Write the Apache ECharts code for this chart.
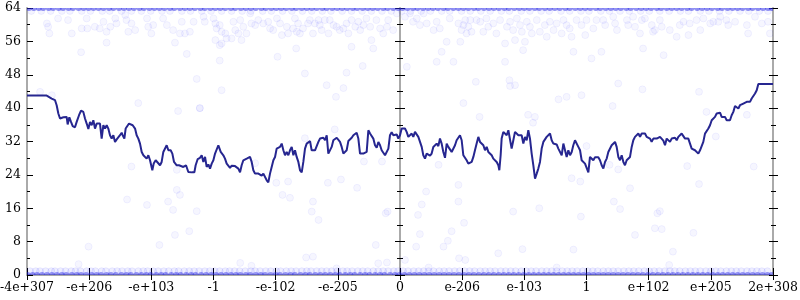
<!DOCTYPE html>
<html><head><meta charset="utf-8">
<script src="https://cdn.jsdelivr.net/npm/echarts@6/dist/echarts.min.js"></script>
<style>html,body{margin:0;padding:0;background:#fff}#c{width:800px;height:300px}</style>
</head><body><div id="c"></div>
<script>
// ---------- DATA ----------
const xTickLabels = ['-4e+307','-e+206','-e+103','-1','-e-102','-e-205','0','e-206','e-103','1','e+102','e+205','2e+308'];
const xMin = -6, xMax = 6;
const yMin = 0, yMax = 64, yStep = 8;

const lineSeg1 = [[-6.0,43.0],[-5.683,43.0],[-5.657,42.6],[-5.603,42.3],[-5.549,41.9],[-5.523,40.7],[-5.496,38.7],[-5.469,37.5],[-5.442,37.3],[-5.415,37.8],[-5.389,37.5],[-5.362,37.9],[-5.346,36.1],[-5.319,37.8],[-5.292,36.7],[-5.265,35.7],[-5.228,35.4],[-5.201,36.7],[-5.163,38.3],[-5.131,39.4],[-5.094,39.1],[-5.067,37.5],[-5.040,36.3],[-5.013,35.0],[-4.986,36.7],[-4.960,35.9],[-4.933,37.1],[-4.906,35.1],[-4.879,36.3],[-4.852,36.7],[-4.826,36.3],[-4.799,32.7],[-4.772,35.9],[-4.745,35.1],[-4.718,35.9],[-4.692,35.1],[-4.665,33.5],[-4.638,32.7],[-4.611,33.5],[-4.584,31.9],[-4.557,32.5],[-4.531,32.7],[-4.504,33.5],[-4.477,34.1],[-4.461,33.5],[-4.434,32.7],[-4.413,35.1],[-4.386,35.5],[-4.359,36.3],[-4.327,36.6],[-4.300,35.9],[-4.262,35.1],[-4.236,33.5],[-4.209,32.7],[-4.182,31.5],[-4.155,29.5],[-4.128,28.7],[-4.102,29.1],[-4.075,27.9],[-4.048,28.7],[-4.021,27.5],[-3.984,25.1],[-3.962,26.7],[-3.930,27.5],[-3.903,27.1],[-3.860,26.3],[-3.834,27.1],[-3.807,29.5],[-3.780,29.9],[-3.753,31.1],[-3.726,29.9],[-3.689,29.9],[-3.662,29.1],[-3.635,27.1],[-3.592,26.3],[-3.555,26.3],[-3.528,25.9],[-3.485,25.9],[-3.442,26.3],[-3.405,24.7],[-3.351,24.6],[-3.308,24.6],[-3.287,26.3],[-3.254,27.8],[-3.217,28.1],[-3.190,28.7],[-3.163,27.1],[-3.136,28.3],[-3.110,25.9],[-3.083,26.5],[-3.056,25.5],[-3.029,26.7],[-3.002,27.5],[-2.975,29.1]];
const lineSeg2 = [[-2.949,29.5],[-2.922,31.1],[-2.906,30.7],[-2.884,29.5],[-2.863,29.9],[-2.842,28.7],[-2.815,27.9],[-2.788,26.7],[-2.761,26.3],[-2.734,25.7],[-2.707,26.2],[-2.681,25.9],[-2.654,26.1],[-2.627,25.9],[-2.600,25.5],[-2.573,24.6],[-2.547,26.3],[-2.520,27.5],[-2.493,27.3],[-2.466,27.9],[-2.439,27.8],[-2.413,28.3],[-2.386,27.1],[-2.359,25.1],[-2.332,24.3],[-2.305,24.1],[-2.278,24.3],[-2.252,23.9],[-2.225,23.8],[-2.198,24.3],[-2.171,23.9],[-2.144,22.7],[-2.118,22.2],[-2.091,24.3],[-2.064,25.9],[-2.037,27.5],[-2.010,28.3],[-1.984,30.3],[-1.957,30.7],[-1.930,30.7],[-1.903,31.5],[-1.876,29.9],[-1.850,28.7],[-1.823,29.5],[-1.796,28.7],[-1.769,29.9],[-1.742,30.7],[-1.715,28.7],[-1.689,29.9],[-1.662,28.3],[-1.635,27.1],[-1.608,25.1],[-1.581,24.6],[-1.555,27.1],[-1.528,30.3],[-1.501,31.5],[-1.474,31.9],[-1.447,32.1],[-1.421,29.9],[-1.394,29.5],[-1.367,29.9],[-1.340,30.3],[-1.313,31.9],[-1.287,32.7],[-1.260,32.3],[-1.233,32.9],[-1.206,32.3],[-1.179,33.5],[-1.153,29.1],[-1.126,28.7],[-1.099,30.7],[-1.072,32.3],[-1.045,32.7],[-1.018,32.9],[-0.992,33.1],[-0.965,31.9],[-0.938,30.7],[-0.911,29.1],[-0.884,28.9],[-0.858,29.9],[-0.831,32.1],[-0.804,32.3],[-0.777,32.9],[-0.750,33.5],[-0.724,33.7],[-0.697,34.1],[-0.670,32.7],[-0.643,29.1],[-0.616,28.9],[-0.590,29.1],[-0.563,29.1],[-0.536,29.5],[-0.509,34.7],[-0.482,33.9],[-0.455,34.3],[-0.429,32.7],[-0.402,31.1],[-0.375,30.5],[-0.348,31.9],[-0.321,31.1],[-0.295,29.9],[-0.268,30.3],[-0.241,28.7],[-0.214,28.3],[-0.187,30.3],[-0.161,33.5],[-0.134,34.2],[-0.107,33.5],[-0.080,33.1],[-0.053,33.7],[-0.027,32.7],[0.000,33.5]];
const lineSeg3 = [[0.027,35.1],[0.054,34.7],[0.080,35.1],[0.107,34.3],[0.134,33.1],[0.161,33.5],[0.188,33.9],[0.214,33.1],[0.241,34.3],[0.268,34.7],[0.295,33.1],[0.322,32.7],[0.349,30.7],[0.375,28.7],[0.402,27.9],[0.429,29.1],[0.456,29.5],[0.483,28.6],[0.509,29.1],[0.536,30.7],[0.563,30.3],[0.590,31.5],[0.617,30.9],[0.643,32.7],[0.670,31.5],[0.697,29.5],[0.724,28.1],[0.751,31.5],[0.777,30.7],[0.804,30.3],[0.831,29.5],[0.858,29.7],[0.885,31.1],[0.911,32.3],[0.938,32.7],[0.965,33.5],[0.992,32.3],[1.019,28.7],[1.046,28.3],[1.072,27.5],[1.099,26.7],[1.126,26.3],[1.153,27.1],[1.180,28.3],[1.206,29.9],[1.233,31.5],[1.260,33.1],[1.287,31.9],[1.314,31.5],[1.341,31.1],[1.367,29.9],[1.394,30.7],[1.421,29.5],[1.448,29.1],[1.475,28.7],[1.501,27.9],[1.528,27.5],[1.555,27.1],[1.582,26.3],[1.598,25.1],[1.619,28.7],[1.635,32.7],[1.662,34.3],[1.689,34.7],[1.716,33.5],[1.743,34.7],[1.769,34.7],[1.796,30.3],[1.823,32.3],[1.850,34.3],[1.877,33.9],[1.904,33.5],[1.930,33.9],[1.957,33.5],[1.984,31.5],[2.011,33.1],[2.038,32.3],[2.064,34.7],[2.091,32.7],[2.118,29.1],[2.145,26.3],[2.172,23.1],[2.199,24.3],[2.225,25.5],[2.252,27.1],[2.279,30.3],[2.306,31.9],[2.333,32.3],[2.359,33.1],[2.386,32.7],[2.413,33.9],[2.440,32.3],[2.467,31.5],[2.493,31.1],[2.520,31.3],[2.547,30.3],[2.574,29.9],[2.601,28.7],[2.628,31.5],[2.654,31.1],[2.681,28.3],[2.708,29.9],[2.735,28.7],[2.762,29.5],[2.788,31.1],[2.815,32.3],[2.842,32.7],[2.869,30.7],[2.896,29.9],[2.922,27.5],[2.949,27.5],[2.976,26.7],[3.003,26.3],[3.030,24.6],[3.056,28.3]];
const lineSeg4 = [[3.083,27.9],[3.110,27.5],[3.137,28.2],[3.164,28.5],[3.190,28.2],[3.217,27.5],[3.244,26.3],[3.271,25.5],[3.298,27.1],[3.325,27.9],[3.351,29.5],[3.378,29.9],[3.405,31.1],[3.432,31.5],[3.459,31.9],[3.485,30.7],[3.512,28.3],[3.539,27.5],[3.566,28.7],[3.593,27.1],[3.619,26.3],[3.646,27.5],[3.673,27.9],[3.700,28.3],[3.727,30.7],[3.753,32.3],[3.780,33.1],[3.807,33.5],[3.834,33.9],[3.861,33.1],[3.888,33.9],[3.914,34.3],[3.941,33.9],[3.968,33.1],[3.995,33.5],[4.022,32.7],[4.048,31.9],[4.075,32.7],[4.102,32.3],[4.129,32.7],[4.156,32.3],[4.182,33.1],[4.209,32.7],[4.236,32.2],[4.263,31.1],[4.290,32.7],[4.317,33.1],[4.343,31.9],[4.370,32.7],[4.397,32.3],[4.424,32.9],[4.451,32.3],[4.477,33.1],[4.504,32.7],[4.531,33.9],[4.558,33.5],[4.585,32.7],[4.611,32.3],[4.638,32.7],[4.665,31.5],[4.692,30.3],[4.719,30.7],[4.745,29.9],[4.772,29.8],[4.799,29.1],[4.826,29.9],[4.853,30.3],[4.879,31.9],[4.906,33.9],[4.933,34.3],[4.960,35.1],[4.987,35.9],[5.014,37.1],[5.040,37.5],[5.067,37.9],[5.094,38.7],[5.121,38.3],[5.148,38.9],[5.174,37.9],[5.201,37.5],[5.228,37.9],[5.255,37.1],[5.282,36.7],[5.308,37.1],[5.335,38.3],[5.362,39.1],[5.389,40.5],[5.416,40.3],[5.443,39.9],[5.469,40.7],[5.496,40.3],[5.523,41.1],[5.550,40.7],[5.577,41.5],[5.603,41.3],[5.630,41.5],[5.657,42.3],[5.684,42.7],[5.711,43.5],[5.738,44.3],[5.764,45.8],[6.0,45.8]];

// isolated faint sample points [x, y]
const scatterPts = [
[-5.68,60.3],[-5.66,59.5],[-5.64,57.9],[-5.50,61.5],[-5.34,61.1],[-5.28,57.9],[-5.13,53.4],[-5.12,59.1],[-5.04,61.5],[-5.03,59.1],[-4.91,59.5],[-4.83,59.1],[-4.77,60.7],[-4.72,58.3],[-4.72,55.7],[-4.66,59.5],[-4.58,61.5],[-4.56,60.3],[-4.42,62.3],[-4.40,61.1],[-4.37,58.3],[-4.32,60.3],[-4.26,58.7],[-4.07,61.5],[-4.05,59.5],[-3.97,59.9],[-4.00,57.9],[-3.81,61.5],[-3.75,59.9],[-3.65,58.7],[-3.62,55.7],[-3.54,57.9],[-3.51,60.7],[-3.46,57.9],[-3.43,53.0],[-3.38,58.3],[-3.32,60.7],[-3.27,47.0],[-3.22,40.0],[-4.21,41.2],[-5.79,43.9],[-5.60,43.1],[-3.57,39.3],
[-3.16,61.9],[-3.14,60.7],[-3.00,61.5],[-2.97,60.3],[-2.95,59.1],[-2.90,59.9],[-2.87,58.3],[-2.81,57.9],[-2.97,56.3],[-2.90,55.1],[-2.87,55.5],[-2.79,56.7],[-2.71,56.7],[-2.68,60.7],[-2.65,58.7],[-2.60,57.9],[-2.57,61.1],[-2.55,56.3],[-2.52,59.5],[-2.47,57.9],[-2.41,62.7],[-2.39,60.3],[-2.33,59.9],[-2.28,61.1],[-2.20,60.3],[-2.12,60.7],[-2.09,59.1],[-2.04,58.7],[-1.98,61.5],[-1.93,60.3],[-1.90,57.5],[-1.82,59.5],[-1.80,57.9],[-1.72,59.1],[-1.69,61.5],[-1.66,58.3],[-1.64,60.3],[-1.61,57.9],[-1.56,59.1],[-1.48,60.3],[-1.45,61.1],[-1.40,57.9],[-1.37,60.3],[-1.31,61.1],[-1.29,59.9],[-1.26,58.7],[-1.21,61.1],[-1.15,57.9],[-1.13,61.1],[-1.07,59.9],[-1.02,59.5],[-0.97,58.7],[-0.91,59.1],[-0.86,60.3],[-0.83,57.9],[-0.78,61.1],[-0.72,59.5],[-0.67,60.7],[-0.64,58.7],[-0.59,59.9],[-0.54,61.5],[-0.48,59.5],[-0.46,56.3],[-0.43,54.3],[-0.38,61.1],[-0.32,59.1],[-0.27,57.9],[-0.21,59.5],[-0.19,61.1],[-0.11,58.7],[-0.05,62.7],[-0.78,54.7],[-1.67,54.3],[-1.97,52.3],[-2.90,51.4],[-1.53,48.3],[-0.86,48.5],[-0.60,50.1],[-1.18,45.5],[-0.91,44.8],[-1.03,42.7],[-2.87,44.3],[-3.22,40.0],[-1.05,34.9],[-1.53,32.8],
[0.08,61.9],[0.16,62.7],[0.21,60.7],[0.27,61.5],[0.32,59.9],[0.38,62.7],[0.43,60.3],[0.54,58.7],[0.59,60.7],[0.64,59.1],[0.67,53.5],[0.59,51.1],[0.75,55.9],[0.80,61.5],[0.86,51.1],[0.94,60.3],[0.97,55.9],[0.99,58.7],[1.02,59.9],[1.05,61.1],[1.07,57.9],[1.10,59.5],[1.13,61.1],[1.15,58.3],[1.23,61.1],[1.29,60.7],[1.34,58.3],[1.39,61.5],[1.42,59.5],[1.50,60.3],[1.55,57.9],[1.61,61.1],[1.69,55.5],[1.69,51.1],[1.72,59.5],[1.77,60.7],[1.82,58.7],[1.85,56.3],[1.88,61.5],[1.93,59.9],[1.96,58.3],[1.98,53.9],[2.01,55.9],[2.04,60.7],[2.09,59.5],[2.12,57.9],[2.20,61.1],[2.25,58.3],[2.33,59.9],[2.36,57.1],[2.41,60.7],[2.47,58.7],[2.52,60.3],[2.60,57.9],[2.63,61.1],[2.68,59.9],[2.73,59.1],[2.76,57.1],[2.79,53.5],[2.84,61.1],[2.92,59.9],[2.98,57.5],[3.00,61.1],[3.08,51.9],[3.11,59.1],[3.16,61.1],[1.22,46.3],[1.76,46.7],[1.85,45.5],[1.77,45.3],[2.55,42.1],[2.68,42.7],[2.92,43.1],[1.02,41.2],[1.28,37.9],[2.06,38.4],[2.17,37.9],[2.14,36.5],[3.00,30.9],[0.11,49.9],
[3.27,61.1],[3.30,59.9],[3.43,61.9],[3.46,60.3],[3.49,58.7],[3.65,61.1],[3.67,59.9],[3.75,61.9],[3.78,59.5],[3.86,57.9],[3.89,61.1],[3.91,54.3],[3.94,61.5],[4.05,59.9],[4.07,58.3],[4.10,58.7],[4.18,61.1],[4.21,59.5],[4.34,58.7],[4.24,52.7],[4.45,57.1],[4.50,59.9],[4.56,60.7],[4.64,57.5],[4.66,60.3],[4.77,61.1],[4.83,58.7],[4.88,61.5],[4.99,60.3],[5.04,60.7],[5.12,60.7],[5.15,61.9],[5.25,61.1],[5.28,59.9],[5.39,60.7],[5.58,59.9],[5.60,57.9],[5.71,61.9],[5.82,60.3],[5.92,60.7],[5.95,57.9],[3.24,53.5],[3.51,45.9],[3.90,44.5],[3.42,40.5],[4.81,43.9],[4.93,39.1],[5.08,33.2],[5.58,38.4],
[-4.32,26.0],[-4.39,18.1],[-4.07,16.8],[-3.73,17.6],[-3.65,15.6],[-3.59,20.4],[-3.54,19.2],[-3.59,25.2],[-3.27,15.3],[-3.62,9.6],[-3.39,10.5],[-3.87,7.2],[-5.01,6.8],[-5.17,2.6],
[-2.33,26.8],[-1.99,22.1],[-1.80,22.4],[-1.89,19.2],[-1.77,18.5],[-1.40,17.6],[-1.42,15.2],[-1.31,13.2],[-1.16,22.1],[-0.95,22.9],[-0.69,20.9],[-0.58,27.2],[-0.29,27.2],[-0.23,14.8],[-0.20,15.2],[-0.39,7.2],[-0.35,2.8],[-0.21,3.0],[-1.51,4.2],[-1.40,4.4],[-2.57,2.9],[-2.39,2.2],[-1.02,1.6],
[0.62,26.4],[0.42,20.0],[0.35,16.9],[0.29,14.4],[0.32,9.8],[0.26,6.8],[0.08,3.6],[0.46,1.8],[0.94,21.6],[0.94,17.6],[1.03,12.5],[0.83,10.5],[0.77,8.2],[0.70,6.8],[0.95,4.0],[1.05,3.6],[1.58,5.2],[1.97,6.2],[1.82,15.2],[2.24,16.0],[2.79,6.1],[2.76,23.2],[2.90,22.4],[2.91,14.0],[2.52,1.8],
[3.37,26.4],[3.51,25.3],[3.70,20.8],[3.44,17.6],[3.54,15.8],[4.14,14.8],[4.18,15.3],[4.10,11.2],[4.21,11.0],[3.78,9.6],[4.39,5.6],[4.33,2.4],[4.72,10.1],[4.81,21.8],[4.62,26.1],[5.69,26.0]
];

// dense bands of piled-up samples
const topEdgeY = 64;
const topEdgeX = [-5.97,-5.89,-5.81,-5.74,-5.65,-5.58,-5.49,-5.42,-5.33,-5.26,-5.17,-5.09,-5.01,-4.93,-4.85,-4.77,-4.68,-4.61,-4.52,-4.44,-4.36,-4.28,-4.19,-4.12,-4.03,-3.95,-3.87,-3.79,-3.7,-3.63,-3.54,-3.46,-3.38,-3.3,-3.21,-3.14,-3.05,-2.97,-2.89,-2.81,-2.72,-2.65,-2.56,-2.48,-2.4,-2.32,-2.23,-2.16,-2.07,-1.99,-1.91,-1.83,-1.74,-1.67,-1.58,-1.5,-1.42,-1.34,-1.25,-1.18,-1.09,-1.01,-0.93,-0.85,-0.76,-0.69,-0.6,-0.52,-0.44,-0.36,-0.27,-0.2,-0.11,-0.03,0.04,0.12,0.21,0.28,0.37,0.45,0.53,0.61,0.7,0.77,0.86,0.94,1.02,1.1,1.19,1.26,1.35,1.43,1.51,1.59,1.68,1.75,1.84,1.92,2.0,2.08,2.17,2.24,2.33,2.41,2.49,2.57,2.66,2.73,2.82,2.9,2.98,3.06,3.15,3.22,3.31,3.39,3.47,3.55,3.64,3.71,3.8,3.88,3.96,4.04,4.13,4.2,4.29,4.37,4.45,4.53,4.62,4.69,4.78,4.86,4.94,5.02,5.11,5.18,5.27,5.35,5.43,5.51,5.6,5.67,5.76,5.84,5.92,5.98];
const topRowY = 63.3;
const topRowX = [-5.93,-5.77,-5.62,-5.44,-5.31,-5.12,-4.98,-4.79,-4.67,-4.48,-4.32,-4.16,-4.01,-3.83,-3.7,-3.51,-3.37,-3.19,-3.04,-2.87,-2.71,-2.54,-2.4,-2.21,-2.07,-1.89,-1.74,-1.57,-1.42,-1.25,-1.11,-0.93,-0.78,-0.61,-0.46,-0.29,-0.14,0.03,0.17,0.34,0.49,0.67,0.8,0.99,1.13,1.3,1.45,1.63,1.76,1.95,2.09,2.27,2.4,2.59,2.73,2.91,3.04,3.23,3.37,3.54,3.69,3.87,4.01,4.18,4.33,4.51,4.64,4.83,4.97,5.14,5.29,5.47,5.61,5.78,5.92];
const bottomEdgeY = 0;
const bottomEdgeX = [-5.99,-5.91,-5.84,-5.76,-5.68,-5.6,-5.52,-5.44,-5.37,-5.28,-5.2,-5.13,-5.05,-4.96,-4.88,-4.81,-4.72,-4.65,-4.57,-4.48,-4.4,-4.33,-4.24,-4.16,-4.08,-4.01,-3.92,-3.84,-3.77,-3.68,-3.6,-3.53,-3.44,-3.36,-3.29,-3.2,-3.12,-3.04,-2.96,-2.88,-2.8,-2.72,-2.64,-2.57,-2.48,-2.41,-2.32,-2.24,-2.17,-2.08,-2.0,-1.93,-1.84,-1.76,-1.69,-1.6,-1.52,-1.45,-1.36,-1.28,-1.2,-1.12,-1.04,-0.97,-0.88,-0.8,-0.73,-0.64,-0.56,-0.49,-0.4,-0.32,-0.25,-0.16,-0.08,-0.01,0.07,0.15,0.23,0.31,0.39,0.47,0.55,0.63,0.71,0.79,0.87,0.95,1.03,1.11,1.19,1.27,1.35,1.43,1.51,1.59,1.67,1.75,1.83,1.91,1.99,2.07,2.15,2.23,2.31,2.39,2.47,2.55,2.63,2.71,2.79,2.87,2.95,3.03,3.11,3.19,3.27,3.35,3.43,3.51,3.59,3.67,3.75,3.83,3.91,3.99,4.07,4.15,4.23,4.31,4.39,4.47,4.55,4.63,4.71,4.79,4.87,4.95,5.03,5.11,5.19,5.27,5.35,5.43,5.51,5.59,5.67,5.75,5.83,5.91,5.98];
const bottomRowY = 0.9;
const bottomRowX = [-5.95,-5.86,-5.79,-5.7,-5.61,-5.55,-5.46,-5.38,-5.29,-5.22,-5.14,-5.04,-4.97,-4.9,-4.8,-4.73,-4.63,-4.55,-4.47,-4.38,-4.31,-4.21,-4.13,-4.06,-3.97,-3.89,-3.8,-3.72,-3.63,-3.56,-3.47,-3.39,-3.31,-3.23,-3.14,-3.06,-2.98,-2.9,-2.81,-2.74,-2.66,-2.58,-2.49,-2.4,-2.33,-2.25,-2.16,-2.08,-1.99,-1.92,-1.83,-1.75,-1.67,-1.58,-1.5,-1.43,-1.34,-1.26,-1.18,-1.1,-1.01,-0.92,-0.85,-0.77,-0.68,-0.6,-0.52,-0.43,-0.35,-0.27,-0.19,-0.1,-0.03,0.05,0.13,0.22,0.3,0.38,0.46,0.54,0.63,0.71,0.79,0.88,0.96,1.04,1.12,1.2,1.29,1.37,1.45,1.53,1.62,1.7,1.78,1.86,1.95,2.03,2.11,2.19,2.28,2.36,2.44,2.52,2.61,2.69,2.77,2.85,2.94,3.02,3.1,3.18,3.27,3.35,3.43,3.51,3.6,3.68,3.76,3.84,3.93,4.01,4.09,4.17,4.26,4.34,4.42,4.5,4.59,4.67,4.75,4.83,4.92,5.0,5.08,5.16,5.25,5.33,5.41,5.49,5.58,5.66,5.74,5.82,5.91];

// ---------- CHART ----------
const chart = echarts.init(document.getElementById('c'), null, {renderer: 'canvas'});
const FONT = 'DejaVu Serif';
const AXIS_GRAY = '#aaaaaa';

function dots(name, data, size, fill, stroke) {
  return {
    type: 'custom', name, data, clip: true, silent: true, z: 2,
    xAxisIndex: 0, yAxisIndex: 0,
    renderItem: function (params, api) {
      const p = api.coord([api.value(0), api.value(1)]);
      return {type: 'circle', shape: {cx: p[0], cy: p[1], r: size / 2},
              style: {fill: fill, stroke: stroke, lineWidth: stroke ? 1 : 0}};
    }
  };
}

function yAx(opts) {
  return Object.assign({
    type: 'value', min: yMin, max: yMax, interval: yStep,
    splitLine: {show: false},
    axisLine: {show: true, onZero: false, lineStyle: {color: AXIS_GRAY, width: 2}},
    axisTick: {show: true, inside: true, length: 6, lineStyle: {color: '#000', width: 1}},
    minorTick: {show: true, splitNumber: 2, length: 3, lineStyle: {color: '#000', width: 1}},
    axisLabel: {show: false}
  }, opts);
}

const option = {
  animation: false,
  backgroundColor: '#ffffff',
  grid: {left: 27, right: 27, top: 8, bottom: 25, containLabel: false, outerBoundsMode: 'none'},
  xAxis: [
    {type: 'value', position: 'bottom', min: xMin, max: xMax, interval: 1,
     splitLine: {show: false},
     axisLine: {show: true, onZero: false, lineStyle: {color: AXIS_GRAY, width: 2}},
     axisTick: {show: true, inside: false, length: 5, lineStyle: {color: '#000', width: 1}},
     axisLabel: {show: true, margin: 6, color: '#000', fontFamily: FONT, fontSize: 12.5,
                 showMinLabel: true, showMaxLabel: true,
                 formatter: function (v) { return xTickLabels[Math.round(v) - xMin]; }}},
    {type: 'value', position: 'bottom', min: xMin, max: xMax, interval: 1,
     splitLine: {show: false},
     axisLine: {show: false, onZero: false},
     axisTick: {show: true, inside: true, length: 7, lineStyle: {color: '#000', width: 1}},
     axisLabel: {show: false}}
  ],
  yAxis: [
    yAx({position: 'left', offset: 0,
         axisLabel: {show: true, margin: 6, color: '#000', fontFamily: FONT, fontSize: 12.5}}),
    yAx({position: 'left', offset: -373, axisTick: {show: true, inside: true, length: 5, lineStyle: {color: '#000'}}}),
    yAx({position: 'left', offset: -373, axisLine: {show: false, onZero: false},
         axisTick: {show: true, inside: false, length: 5, lineStyle: {color: '#000'}}}),
    yAx({position: 'right', offset: 0, axisTick: {show: true, inside: true, length: 4, lineStyle: {color: '#000'}},
         minorTick: {show: true, splitNumber: 2, length: 2, lineStyle: {color: '#000'}}}),
    yAx({position: 'right', offset: 0, axisLine: {show: false, onZero: false},
         axisTick: {show: true, inside: false, length: 5, lineStyle: {color: '#000'}}})
  ],
  series: [
    dots('scatter', scatterPts, 7, 'rgba(0,0,255,0.035)', 'rgba(0,0,255,0.05)'),
    dots('topRow', topRowX.map(x => [x, topRowY]), 7, 'rgba(30,30,255,0.05)', 'rgba(30,30,255,0.06)'),
    dots('bottomRow', bottomRowX.map(x => [x, bottomRowY]), 7, 'rgba(30,30,255,0.07)', 'rgba(30,30,255,0.08)'),
    dots('topEdge', topEdgeX.map(x => [x, topEdgeY]), 6, 'rgba(40,40,230,0.5)', null),
    dots('bottomEdge', bottomEdgeX.map(x => [x, bottomEdgeY]), 6, 'rgba(40,40,230,0.45)', null),
    {type: 'line', name: 'median', xAxisIndex: 0, yAxisIndex: 0, z: 5,
     data: lineSeg1.concat(lineSeg2, lineSeg3, lineSeg4),
     showSymbol: false, symbol: 'none', clip: true, silent: true,
     lineStyle: {color: '#262690', width: 2}}
  ]
};
chart.setOption(option);
</script>
</body></html>
